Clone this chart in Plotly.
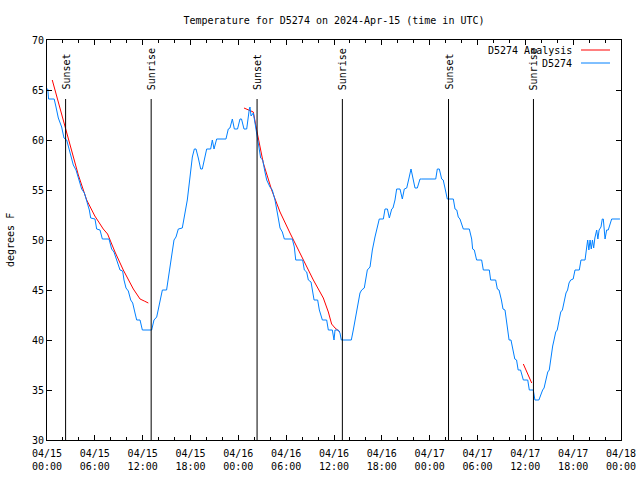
import pandas as pd
import plotly.graph_objects as go

title_text = "Temperature for D5274 on 2024-Apr-15 (time in UTC)"
start = "2024-04-15 00:00"
end = "2024-04-18 00:00"

# Observed series D5274: hours after 2024-04-15 00:00 UTC, degrees F
obs_hours = [
    0.00, 0.10, 0.20, 0.90, 1.13, 1.42, 1.84, 2.13, 2.47, 2.80, 3.10, 3.30, 3.64, 4.06, 4.35,
    4.69, 4.98, 5.31, 5.48, 6.02, 6.23, 6.65, 6.94, 7.78, 8.11, 8.40, 8.74, 9.16, 9.49, 9.66,
    9.91, 10.20, 10.50, 10.75, 11.04, 11.25, 11.67, 11.96, 13.13, 13.42, 13.76, 14.09, 14.39,
    14.47, 15.00, 15.22, 15.43, 15.72, 15.93, 16.18, 16.47, 16.97, 17.31, 17.60, 17.85, 18.02,
    18.23, 18.48, 18.69, 18.98, 19.28, 19.48, 19.82, 20.03, 20.53, 20.74, 20.95, 21.28, 22.45,
    22.74, 22.95, 23.25, 23.50, 23.90, 24.21, 24.40, 24.71, 25.05, 25.38, 25.46, 25.60, 25.88,
    26.09, 26.30, 26.50, 26.80, 27.06, 27.34, 27.56, 27.97, 28.26, 28.60, 28.81, 29.01, 29.23,
    29.52, 29.77, 30.77, 31.02, 31.20, 32.07, 32.28, 32.57, 32.78, 33.12, 33.28, 33.50, 33.95,
    34.16, 34.54, 35.08, 35.29, 35.79, 36.00, 36.13, 36.54, 36.75, 36.92, 38.17, 38.42, 38.63,
    38.84, 39.05, 39.26, 39.47, 39.80, 40.01, 40.18, 40.52, 40.81, 41.14, 41.43, 41.68, 42.19,
    42.40, 42.70, 42.94, 43.24, 43.40, 43.65, 43.86, 44.28, 44.57, 44.82, 45.12, 45.41, 45.66,
    45.87, 46.16, 46.45, 46.79, 47.00, 48.76, 48.96, 49.21, 49.51, 49.70, 49.92, 50.21, 50.97,
    51.18, 51.40, 51.59, 51.80, 52.22, 52.97, 53.27, 53.39, 53.60, 53.89, 54.52, 54.73, 55.48,
    55.65, 56.28, 56.49, 56.70, 57.00, 57.20, 57.45, 57.70, 57.96, 58.20, 58.47, 58.68, 58.90,
    59.10, 59.40, 59.75, 60.30, 60.50, 61.00, 61.20, 61.70, 61.97, 62.17, 62.35, 62.56, 62.81,
    63.00, 63.22, 63.43, 63.60, 63.81, 64.00, 64.22, 64.44, 64.65, 64.85, 65.10, 65.30, 65.48,
    65.69, 66.00, 66.23, 66.77, 66.98, 67.49, 67.70, 67.82, 67.97, 68.12, 68.27, 68.42, 68.57,
    68.72, 68.95, 69.10, 69.25, 69.49, 69.65, 69.78, 70.00, 70.20, 70.40,
    70.62, 70.83, 71.87,
]
obs_temp = [
    65.1, 65.1, 64.1, 64.1, 63.3, 62.2, 61.3, 60.2, 60.0, 59.1, 58.3, 57.5, 57.0, 56.0, 55.1,
    54.7, 54.0, 53.0, 52.2, 52.1, 51.1, 51.0, 50.1, 50.1, 49.1, 48.8, 48.0, 47.0, 46.9, 46.0,
    45.2, 44.9, 44.0, 43.7, 42.7, 42.0, 42.0, 41.0, 41.0, 42.0, 42.3, 43.7, 44.8,
    45.0, 45.0, 46.2, 47.2, 48.5, 50.0, 50.3, 51.1, 51.2, 52.7, 54.0, 55.7, 56.7,
    58.3, 59.1, 59.1, 58.2, 57.1, 57.1, 58.3, 59.1, 59.1, 60.0, 59.1, 60.1, 60.1,
    61.1, 61.2, 62.1, 61.1, 61.1, 62.1, 62.1, 61.1, 61.1, 63.1, 63.3, 62.4, 62.7,
    61.7, 60.8, 59.7, 58.2, 58.0, 56.8, 56.0, 55.3, 55.0, 54.0, 53.2, 52.2, 51.2,
    50.8, 50.1, 50.1, 49.3, 48.0, 48.0, 47.0, 46.8, 46.0, 45.8, 45.0, 44.0, 44.0,
    43.0, 42.0, 42.0, 41.0, 41.0, 40.0, 41.0, 41.0, 40.7, 40.0, 40.0, 41.0, 42.0,
    43.0, 44.0, 44.7, 45.0, 45.2, 46.2, 47.0, 47.3, 49.0, 50.3, 51.3, 52.1, 52.1,
    53.1, 53.1, 52.2, 53.1, 53.2, 54.0, 55.1, 55.1, 54.1, 55.1, 55.2, 56.2, 57.1,
    56.3, 55.2, 55.2, 56.1, 56.1, 56.1, 57.1, 57.1, 56.1, 56.0, 55.2, 54.1, 54.1,
    53.1, 53.0, 52.3, 52.1, 51.1, 51.1, 50.1, 49.1, 49.0, 48.0, 48.0, 47.0, 47.0,
    46.0, 46.0, 45.1, 45.0, 44.0, 43.1, 43.0, 41.5, 40.0, 40.0, 38.7, 38.1, 38.0,
    37.0, 37.0, 36.0, 36.0, 35.0, 35.0, 34.0, 34.0, 34.7, 35.0, 35.2, 36.0, 36.8,
    37.0, 38.4, 39.4, 40.0, 40.8, 41.0, 42.0, 42.8, 43.0, 43.8, 44.7, 45.0, 45.7,
    46.0, 46.1, 47.0, 47.0, 48.0, 48.0, 49.3, 50.0, 49.0, 50.0, 49.1, 50.0, 49.2,
    50.2, 51.0, 50.1, 51.0, 51.3, 52.1, 52.1, 50.1, 51.0, 51.0,
    51.5, 52.1, 52.1,
]

# Analysis series (three separate segments)
ana_hours = [
    [0.66, 1.50, 2.26, 3.30, 3.93, 4.98, 6.00, 7.06, 7.60, 8.53, 9.57, 10.83, 11.67, 12.20, 12.71],
    [24.71, 25.40, 25.88, 26.30, 27.13, 28.18, 29.23, 30.48, 31.30, 32.15, 33.41, 34.66, 35.29,
     35.70, 36.13, 36.75],
    [59.75, 60.30, 60.80],
]
ana_temp = [
    [66.0, 63.6, 61.4, 58.5, 56.5, 54.0, 52.4, 51.1, 50.6, 48.8, 47.0, 45.1, 44.1, 43.9, 43.7],
    [63.2, 63.0, 62.8, 61.0, 57.7, 55.0, 52.8, 50.7, 49.4, 48.0, 46.0, 44.2, 42.8, 41.6, 41.2,
     40.8],
    [37.6, 36.6, 35.7],
]

# Sun events (UTC)
event_labels = ["Sunset", "Sunrise", "Sunset", "Sunrise", "Sunset", "Sunrise"]
event_times = ["2024-04-15 02:20", "2024-04-15 13:04", "2024-04-16 02:21",
               "2024-04-16 13:03", "2024-04-17 02:22", "2024-04-17 13:01"]
event_line_top = 64.1
event_label_base = 64.8

legend_names = ["D5274 Analysis", "D5274"]
RED = "#ff0000"
BLUE = "#0080ff"
FONT = "DejaVu Sans Mono"

base = pd.Timestamp(start)


def to_time(hours):
    return base + pd.to_timedelta(pd.Series(hours), unit="h")


fig = go.Figure()
for hrs, tmp in zip(ana_hours, ana_temp):
    fig.add_trace(go.Scatter(x=to_time(hrs), y=tmp, mode="lines",
                             line=dict(color=RED, width=1), showlegend=False))
fig.add_trace(go.Scatter(x=to_time(obs_hours), y=obs_temp, mode="lines",
                         line=dict(color=BLUE, width=1), showlegend=False))

for lab, t in zip(event_labels, event_times):
    fig.add_shape(type="line", xref="x", yref="y", x0=t, x1=t, y0=30, y1=event_line_top,
                  line=dict(color="black", width=1))
    fig.add_annotation(x=t, y=event_label_base, xref="x", yref="y", text=lab,
                       textangle=-90, showarrow=False, xanchor="center", yanchor="bottom",
                       font=dict(family=FONT, size=10, color="black"))

# gnuplot-style key: text on left, sample line on right
key_colors = [RED, BLUE]
for i, (name, col) in enumerate(zip(legend_names, key_colors)):
    ypix = 50 + i * 13
    yp = 1 - (ypix - 40) / 400
    fig.add_annotation(x=(574 - 47) / 574, y=yp, xref="paper", yref="paper", text=name,
                       showarrow=False, xanchor="right", yanchor="middle",
                       font=dict(family=FONT, size=10, color="black"))
    fig.add_shape(type="line", xref="paper", yref="paper",
                  x0=(581 - 47) / 574, x1=(610 - 47) / 574, y0=yp, y1=yp,
                  line=dict(color=col, width=1))

fig.add_annotation(x=0, y=0.5, xref="paper", yref="paper", text="degrees F",
                   textangle=-90, showarrow=False, xanchor="center", yanchor="middle",
                   xshift=-37, font=dict(family=FONT, size=10, color="black"))

fig.update_layout(
    width=640, height=480, autosize=False,
    margin=dict(l=47, r=19, t=40, b=40),
    paper_bgcolor="white", plot_bgcolor="white",
    font=dict(family=FONT, size=10, color="black"),
    title=dict(text=title_text, x=0.5, xref="paper", y=1 - 20 / 480, yref="container",
               xanchor="center", yanchor="middle",
               font=dict(family=FONT, size=10, color="black")),
    showlegend=False,
)
fig.update_xaxes(
    range=[start, end], type="date", automargin=False,
    tick0=start, dtick=6 * 3600 * 1000, tickformat="%m/%d<br>%H:%M",
    ticks="inside", ticklen=5, tickcolor="black", ticklabelstandoff=4,
    minor=dict(dtick=2 * 3600 * 1000, ticks="inside", ticklen=3, tickcolor="black"),
    showline=True, linecolor="black", linewidth=1, mirror="allticks",
    showgrid=False, zeroline=False,
    tickfont=dict(family=FONT, size=10, color="black"),
)
fig.update_yaxes(
    range=[30, 70], dtick=5, tick0=30, automargin=False,
    ticks="inside", ticklen=5, tickcolor="black",
    showline=True, linecolor="black", linewidth=1, mirror="allticks",
    showgrid=False, zeroline=False,
    tickfont=dict(family=FONT, size=10, color="black"),
)

fig.write_html("out.html", config={"displayModeBar": False},
               post_script="document.body.style.margin='0px';")
